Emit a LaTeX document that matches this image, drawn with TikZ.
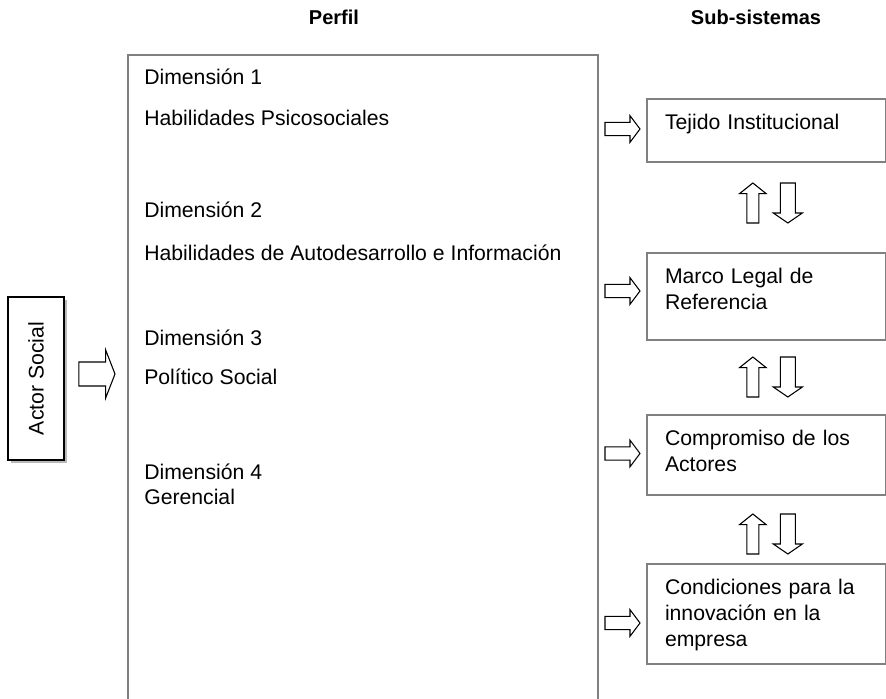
\documentclass[tikz,border=0pt]{standalone}
\usepackage{fontspec}
\setmainfont{Liberation Sans}
\usetikzlibrary{calc,shadows}

\definecolor{framegray}{RGB}{128,128,128}

% block arrow: tail, tip, shaft half width, head half width, head length
\newcommand\fatarrow[5]{%
  \path #1 coordinate (fa tail) #2 coordinate (fa tip);
  \path ($(fa tip)!#5!(fa tail)$) coordinate (fa neck);
  \draw[blockarrow] ($(fa tail)!#3!90:(fa tip)$) -- ($(fa neck)!#3!-90:(fa tail)$)
    -- ($(fa neck)!#4!-90:(fa tail)$) -- (fa tip) -- ($(fa neck)!#4!90:(fa tail)$)
    -- ($(fa neck)!#3!90:(fa tail)$) -- ($(fa tail)!#3!-90:(fa tip)$) -- cycle;
}

\tikzset{
  panel/.style={draw=framegray, line width=1.5pt},
  subbox/.style={panel, anchor=north west, align=left, inner xsep=13.5pt, inner ysep=0pt,
    text width=152pt, text height=22.75pt},
  dimtext/.style={anchor=base west, inner sep=0pt},
  heading/.style={font=\bfseries\fontsize{15}{18}\selectfont},
  blockarrow/.style={draw=black, line width=0.8pt, line join=miter, fill=white},
}

\begin{document}
\begin{tikzpicture}[x=0.75pt, y=-0.75pt, font=\fontsize{15.9}{19.5}\selectfont]
    \useasboundingbox (0,0) rectangle (886,699);

    \node[heading] (perfil title) at (334,17) {Perfil};
    \node[heading] (sub title) at (756,17) {Sub-sistemas};

    % perfil, open at the bottom of the page
    \node[panel, anchor=north west, inner sep=0pt, minimum width=352.5pt, minimum height=493.5pt] (perfil) at (127,54) {};

    \node[dimtext] (dim1) at (144,84.5) {Dimensión 1};
    \node[dimtext] (hab1) at (144,125.5) {Habilidades Psicosociales};
    \node[dimtext] (dim2) at (144,217.5) {Dimensión 2};
    \node[dimtext] (hab2) at (144,260.5) {Habilidades de Autodesarrollo e Información};
    \node[dimtext] (dim3) at (144,345.5) {Dimensión 3};
    \node[dimtext] (hab3) at (144,384.5) {Político Social};
    \node[dimtext] (dim4) at (144,479.5) {Dimensión 4};
    \node[dimtext] (hab4) at (144,504.5) {Gerencial};

    \node[draw, line width=1.2pt, fill=white, inner sep=0pt, minimum width=42pt, minimum height=122pt,
      drop shadow={shadow xshift=2.25pt, shadow yshift=-2.25pt, fill=gray!55, opacity=1}]
      (actor) at (36,378.5) {\rotatebox{90}{Actor Social}};

    % sub-sistemas
    \node[subbox, text depth=24.5pt] (tejido) at (646,98) {Tejido Institucional};
    \node[subbox, text depth=42.5pt] (marco) at (646,252) {Marco Legal de\\Referencia};
    \node[subbox, text depth=37.25pt] (compromiso) at (646,414) {Compromiso de los\\Actores};
    \node[subbox, text depth=52.25pt] (condiciones) at (646,563) {Condiciones para la\\innovación en la\\empresa};

    \fatarrow{($(actor.east)+(14,-4.5)$)}{($(perfil.west |- actor.east)+(-12,-4.5)$)}{9pt}{18pt}{7pt}

    \foreach \sub/\dy in {tejido/-1.5, marco/-5.5, compromiso/-1.5, condiciones/9}{
      \fatarrow{($(perfil.east |- \sub.west)+(6,\dy)$)}{($(\sub.west)+(-6,\dy)$)}{5pt}{10pt}{7.5pt}
    }

    \foreach \sub/\gap in {tejido/20, marco/16, compromiso/18}{
      \fatarrow{($(\sub.south)+(-13.5,\gap+40)$)}{($(\sub.south)+(-13.5,\gap)$)}{4.5pt}{10pt}{8pt}
      \fatarrow{($(\sub.south)+(21.5,\gap)$)}{($(\sub.south)+(21.5,\gap+40)$)}{5.6pt}{10.9pt}{7.5pt}
    }

\end{tikzpicture}
\end{document}
